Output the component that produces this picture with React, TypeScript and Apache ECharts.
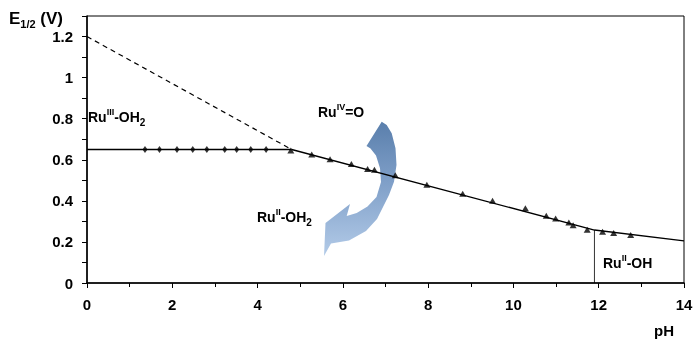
import React, { useEffect, useRef } from "react";
import * as echarts from "echarts";

// pH values of measured points
const diamondPH = [1.36, 1.7, 2.11, 2.48, 2.81, 3.23, 3.51, 3.84, 4.2];
const diamondE = [0.65, 0.65, 0.65, 0.65, 0.65, 0.65, 0.65, 0.65, 0.65];
const trianglePH = [4.78, 5.27, 5.7, 6.2, 6.58, 6.74, 7.23, 7.97, 8.81, 9.51, 10.28, 10.77, 10.99, 11.3, 11.4, 11.73, 12.09, 12.35, 12.75];
const triangleE = [0.645, 0.626, 0.603, 0.58, 0.555, 0.551, 0.525, 0.478, 0.434, 0.401, 0.364, 0.327, 0.314, 0.294, 0.281, 0.259, 0.249, 0.244, 0.234];
// fitted lines
const flatLine = [[0, 0.65], [4.8, 0.65]];
const slopeLine = [[4.8, 0.65], [11.9, 0.258], [14, 0.205]];
const dashedLine = [[0, 1.2], [4.8, 0.65]];
const pKaLine = [[11.9, 0], [11.9, 0.258]];
const xTicks = [0, 2, 4, 6, 8, 10, 12, 14];
const yTicks = [0, 0.2, 0.4, 0.6, 0.8, 1, 1.2];

const FONT = "Liberation Sans, Arial, sans-serif";

const rich = {
  a: { fontSize: 14, fontWeight: "bold", fontFamily: FONT, lineHeight: 20, verticalAlign: "middle", color: "#000" },
  sup: { fontSize: 9, fontWeight: "bold", fontFamily: FONT, verticalAlign: "top", color: "#000" },
  sub: { fontSize: 10, fontWeight: "bold", fontFamily: FONT, verticalAlign: "bottom", color: "#000" },
};

function label(text: string, x: number, y: number) {
  return {
    type: "text",
    x,
    y,
    z: 10,
    style: { text, rich, align: "left", verticalAlign: "middle", fill: "#000" },
  };
}

const arrowPoints = [
  [381.7, 121.7], [386.7, 125], [391.7, 133.3], [395.5, 148.3], [396.5, 165], [394, 181.7], [389, 195],
  [384, 205], [377, 219], [366, 231], [349, 240.5], [331, 243.5], [324, 256], [325.5, 223], [350, 204],
  [346.7, 216], [356.7, 213], [367.5, 206.5], [376.5, 197], [381, 182], [380, 168.3], [376, 155.5],
  [370.5, 148.5], [366.5, 146],
];

export default function App() {
  const ref = useRef<HTMLDivElement>(null);
  useEffect(() => {
    if (!ref.current) return;
    const chart = echarts.init(ref.current, null, { renderer: "svg" });
    const axisLabel = { color: "#000", fontWeight: "bold", fontSize: 15, fontFamily: FONT };
    chart.setOption({
      animation: false,
      grid: { left: 87, right: 13, top: 16, bottom: 57, show: true, borderColor: "#000", borderWidth: 1, backgroundColor: "transparent" },
      xAxis: {
        type: "value",
        min: xTicks[0],
        max: xTicks[xTicks.length - 1],
        interval: 2,
        axisLine: { show: true, lineStyle: { color: "#000", width: 1.5 } },
        axisTick: { show: true, inside: false, length: 5, lineStyle: { color: "#000", width: 1 } },
        minorTick: { show: true, splitNumber: 2, length: 4, lineStyle: { color: "#000", width: 1 } },
        splitLine: { show: false },
        axisLabel: { ...axisLabel, margin: 14 },
      },
      yAxis: {
        type: "value",
        min: yTicks[0],
        max: 1.3,
        interval: 0.2,
        axisLine: { show: true, lineStyle: { color: "#000", width: 1.5 } },
        axisTick: { show: true, inside: false, length: 5, lineStyle: { color: "#000", width: 1 } },
        minorTick: { show: true, splitNumber: 2, length: 5, lineStyle: { color: "#000", width: 1 } },
        splitLine: { show: false },
        axisLabel: { ...axisLabel, margin: 14, showMaxLabel: false, formatter: (v: number) => (yTicks.some((t) => Math.abs(t - v) < 1e-6) ? String(Math.round(v * 10) / 10) : "") },
      },
      graphic: [
        {
          type: "polygon",
          z: -1,
          shape: { points: arrowPoints },
          style: {
            fill: new echarts.graphic.LinearGradient(0, 0, 0, 1, [
              { offset: 0, color: "#5a7fac" },
              { offset: 0.45, color: "#7f9fc8" },
              { offset: 1, color: "#b3cbe8" },
            ]),
            stroke: "none",
          },
        },
        {
          type: "text",
          x: 9,
          y: 18,
          z: 10,
          style: {
            text: "{a|E}{s|1/2}{a| (V)}",
            align: "left",
            verticalAlign: "middle",
            rich: {
              a: { fontSize: 17, fontWeight: "bold", fontFamily: FONT, lineHeight: 22, verticalAlign: "middle", color: "#000" },
              s: { fontSize: 11, fontWeight: "bold", fontFamily: FONT, verticalAlign: "bottom", color: "#000" },
            },
          },
        },
        label("{a|Ru}{sup|III}{a|-OH}{sub|2}", 88, 117),
        label("{a|Ru}{sup|IV}{a|=O}", 318, 112),
        label("{a|Ru}{sup|II}{a|-OH}{sub|2}", 257, 217),
        label("{a|Ru}{sup|II}{a|-OH}", 603, 263),
        {
          type: "text",
          x: 664,
          y: 330,
          z: 10,
          style: { text: "pH", align: "center", verticalAlign: "middle", fill: "#000", font: `bold 15px ${FONT}` },
        },
      ],
      series: [
        {
          type: "line",
          data: dashedLine,
          symbol: "none",
          lineStyle: { color: "#000", width: 1.2, type: [5, 4] },
          z: 3,
        },
        { type: "line", data: flatLine, symbol: "none", lineStyle: { color: "#000", width: 1.3 }, z: 3 },
        { type: "line", data: slopeLine, symbol: "none", lineStyle: { color: "#000", width: 1.3 }, z: 3 },
        { type: "line", data: pKaLine, symbol: "none", lineStyle: { color: "#000", width: 0.8 }, z: 3 },
        {
          type: "scatter",
          data: diamondPH.map((x, i) => [x, diamondE[i]]),
          symbol: "diamond",
          symbolSize: [5, 7],
          itemStyle: { color: "#000" },
          z: 4,
        },
        {
          type: "scatter",
          data: trianglePH.map((x, i) => [x, triangleE[i]]),
          symbol: "triangle",
          symbolSize: [7, 6],
          itemStyle: { color: "#000" },
          z: 4,
        },
      ],
    });
    return () => chart.dispose();
  }, []);
  return <div ref={ref} style={{ position: "fixed", left: 0, top: 0, width: 697, height: 340 }} />;
}
